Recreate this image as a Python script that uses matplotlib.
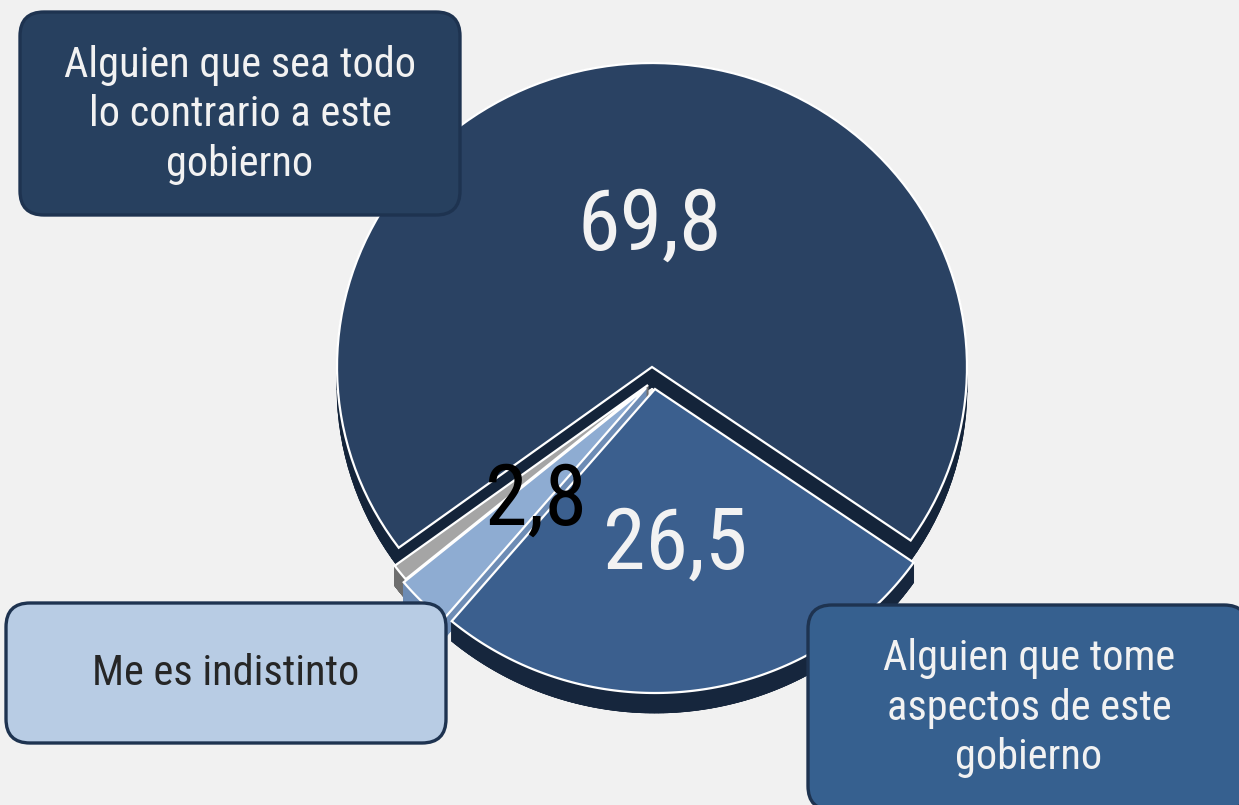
import numpy as np
import matplotlib
matplotlib.use("Agg")
import matplotlib.pyplot as plt
from matplotlib.patches import Polygon, FancyBboxPatch
from matplotlib import font_manager

# ---- data ----
categories = ["Alguien que tome\naspectos de este\ngobierno", "Me es indistinto", "Ns/Nc",
              "Alguien que sea todo\nlo contrario a este\ngobierno"]
values = [26.5, 2.8, 0.9, 69.8]
value_labels = ["26,5", "2,8", "", "69,8"]

# ---- style ----
top_colors = ["#3b5f8e", "#8eacd2", "#a5a5a5", "#2a4263"]
side_colors = ["#16263d", "#6d8cb5", "#6e6e6e", "#14243a"]
label_colors = ["#f2f2f2", "#000000", "#000000", "#f2f2f2"]
offsets = [(3, 22), (-6, 21), (-4, 18), (0, 0)]   # explosion in px
cx, cy, rx, ry, depth = 652, 367, 315, 304, 20
start_angle = -34.8

available = {f.name for f in font_manager.fontManager.ttflist}
FONT = "Roboto"
for cand in ["Roboto Condensed", "Asap Condensed", "Barlow Condensed"]:
    if cand in available:
        FONT = cand
        break

W, H = 1239, 805
fig = plt.figure(figsize=(W / 100, H / 100), dpi=100)
fig.patch.set_facecolor("#f1f1f1")
ax = fig.add_axes([0, 0, 1, 1])
ax.set_xlim(0, W)
ax.set_ylim(H, 0)
ax.axis("off")

# compute clockwise angles
total = sum(values)
angles = []
a = start_angle
for v in values:
    span = 360.0 * v / total
    angles.append((a - span, a))
    a -= span


def outline(t1, t2, ox, oy, n=120):
    th = np.radians(np.linspace(t1, t2, n))
    xs = cx + ox + rx * np.cos(th)
    ys = cy + oy - ry * np.sin(th)
    pts = [(cx + ox, cy + oy)] + list(zip(xs, ys))
    return np.array(pts)


# draw order: back (big) first, front last
order = [3, 2, 1, 0]
for i in order:
    t1, t2 = angles[i]
    ox, oy = offsets[i]
    pts = outline(t1, t2, ox, oy)
    bot = pts + np.array([0, depth])
    ax.add_patch(Polygon(bot, closed=True, facecolor=side_colors[i], edgecolor=side_colors[i], lw=0.5, zorder=2))
    n = len(pts)
    for k in range(n):
        p, q = pts[k], pts[(k + 1) % n]
        quad = np.array([p, q, q + [0, depth], p + [0, depth]])
        ax.add_patch(Polygon(quad, closed=True, facecolor=side_colors[i], edgecolor=side_colors[i], lw=0.5, zorder=2))
    ax.add_patch(Polygon(pts, closed=True, facecolor=top_colors[i], edgecolor="white", lw=1.6,
                         joinstyle="miter", zorder=3))

# value labels along mid-angle
for i, lab in enumerate(value_labels):
    if not lab:
        continue
    t1, t2 = angles[i]
    mid = np.radians((t1 + t2) / 2)
    ox, oy = offsets[i]
    r = 0.49
    x = cx + ox + r * rx * np.cos(mid)
    y = cy + oy - r * ry * np.sin(mid) + 8
    ax.text(x, y, lab, ha="center", va="center", fontsize=62, color=label_colors[i],
            family=FONT, zorder=6)

# callout boxes: (category index, x0, y0, w, h, fill, text colour, text x, text y)
boxes = [
    (3, 20, 12, 440, 203, "#27405f", "#f2f2f2", 240, 115),
    (1, 6, 603, 440, 140, "#b8cce4", "#262626", 226, 673),
    (0, 808, 605, 440, 205, "#36608f", "#f2f2f2", 1029, 708),
]
for idx, x0, y0, w, h, fc, tc, tx, ty in boxes:
    ax.add_patch(FancyBboxPatch((x0, y0), w, h, boxstyle="round,pad=0,rounding_size=24",
                                facecolor=fc, edgecolor="#1e3350", lw=2.4, zorder=7))
    ax.text(tx, ty, categories[idx], ha="center", va="center",
            fontsize=30.5, color=tc, family=FONT, linespacing=1.28, zorder=8)

fig.savefig("out.png", dpi=100, facecolor=fig.get_facecolor())
